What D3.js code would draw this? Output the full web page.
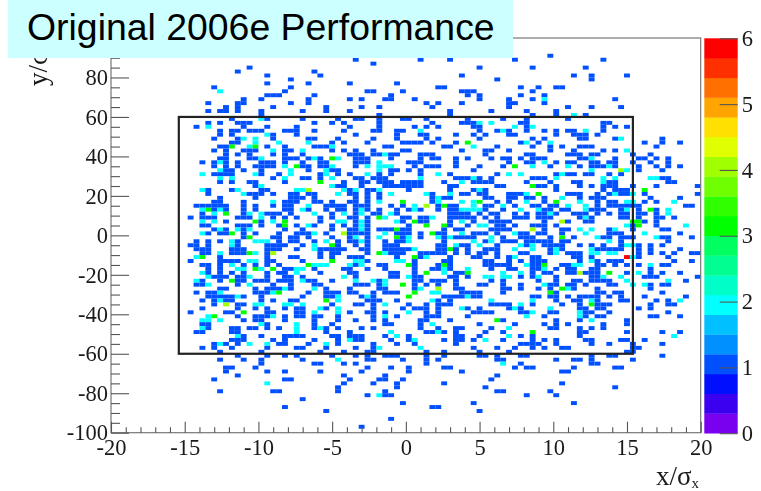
<!DOCTYPE html>
<html>
<head>
<meta charset="utf-8">
<script src="https://cdn.jsdelivr.net/npm/d3@7"></script>
<style>
  html, body { margin: 0; padding: 0; background: #fff; }
  svg { display: block; }
  .serif { font-family: "Liberation Serif", serif; fill: #1a1a1a; }
</style>
</head>
<body>
<svg id="chart" width="761" height="491"></svg>
<script>
// Axis ticks
const xMajor = [-20, -15, -10, -5, 0, 5, 10, 15, 20];
const xMinor = d3.range(-20, 21).filter(v => v % 5 !== 0);
const yMajor = [-100, -80, -60, -40, -20, 0, 20, 40, 60, 80];
const yMinor = d3.range(-100, 100, 5).filter(v => v % 20 !== 0);
const zMajor = [0, 1, 2, 3, 4, 5, 6];

// Selection box drawn over the histogram
const boxX = [-15.4, 15.4];
const boxY = [-60, 60];

// 100 x 100 bins
const xBinCount = 100;
const yBinCount = 100;

// ROOT rainbow palette, bottom to top of the colour bar
const palette = [
  "#7a00f0", "#3c00f0", "#0010ff", "#0050ff", "#0090ff",
  "#00c0ff", "#00ffff", "#00ffc8", "#00ff90", "#00ff60",
  "#00ff00", "#30ff00", "#70ff00", "#a0ff00", "#e0ff00",
  "#ffe000", "#ffa500", "#ff7000", "#ff3000", "#ff0000"
];

// One string per y bin, top row first: "column" for a count of 1, "column:count" otherwise
const cellRows = [
  "", "", "", "",
  "74",
  "41 52 57 68 83",
  "44",
  "23 62 71 80",
  "21 34",
  "26 35 59 78 81 87",
  "30 65 81",
  "26 33 40 48",
  "17 30 55 56 69 72 75 76",
  "18:2 29 43 44 49 59 60 61 71",
  "26 27 28 34 47 60 62 69 73",
  "22 25 33 40 42 46 47 51 62 67 71 73:2 85",
  "16 21 22 30 33 53 55 59 67 68 73",
  "19 21 27 36 42 45 54 67 77 81 86",
  "16 18 19 21 25 32 36 40 57 64 70 75",
  "25 45 57 71 75 78:2 80",
  "20 25:2 26 32 38 41 42 45 49 50 53 60 66 70 77",
  "16 18 21 22 23 34 37 39 45 54 59 60 61 62:2 64:2 69 70 83 84",
  "14 16:2 22 26 31 40 45 51 53 55 61 62 68:2 70 71:2 83 85 87",
  "18 20 21 23 24 25 29 30 31 34 39 44 45 48 49 52:2 62 65 66:2 67 70 73 75 77 78 80:2 83",
  "18 20 26:2 27 31 41 48 52 53 58 61 63 67 68 75 78 79 80 82",
  "17 21 22:2 24:2 27 33 34 38 44 48 53 55 62 71 73 79 80 85 86:2 93",
  "20 21 24:2 28:2 33:2 37 39 43 49 50 51 52 54 58 60:3 69 70:2 72 74:2 90 93 96",
  "18 19 20:3 23:2 24:3 26 29 34 35 36 37:2 46 47 56 57 61:2 65 71 74 76 79 80 81 92",
  "17 19 22 23 24 27:2 29 30 32:2 37 39 41 44 49 50 59 63 64 67 74 78 83 85 87:2",
  "19 21 23 27 29 32 40 41 42 44 45 46:2 47 48 52 53 54 63 70 71 77 78 79 81 82 88 91",
  "18 19 23 24 25:2 29 30 31 33 34:2 35 37:3 38:2 41 42 43 47 52 54 55 58 60 64 66 67 69 71 72 73 79 80 81:2 85 89 90 92 94",
  "15 17 18:2 19 21 25 26 27 29 32 35 36 41 42 43 45:2 50 51 52 58 67 70 71 73:2 75 77 78 81 82 84 85 88 91 94",
  "17 19 21 24 25 26 27 29:2 31:3 32 33 35 36 37:2 41 43:2 45:2 46:2 47:2 51 53 54 55 58 62 66 68:3 71:2 74 77:2 79 81 82 83 84:2 85 89 92 94 96",
  "18:2 19 20 22 25 30:2 33 36:2 37 38 45:2 47 48 50 52 61 81:2 86:4 87:2 89 93",
  "15:2 17 18 19 20 24:2 25 28 30:2 35 36:2 38 40 43:2 45 47 52 55:2 57 65 67:2 69:2 75 76:2 77 78 80 81 84 86",
  "18:2 20:2 27 29:2 32 33 35 37:2 41 42 44 45 46 52:2 58 59 60 61:2 62 64 71 72 73 75:2 83:2 85:2 91:2 92:2 93 94",
  "18 20 23 24 29 35:3 39 42 43 45 46 47 49 50 51 52 56 59:2 61 62 63 64 70 74 78 79 83:2 84 85 94 95",
  "24 25:2 37:2 38 39 42 46 47 48 49 50 51 52 57 58 65 66 71:3 72 73 75 79 81 83 84 85 88 92 99",
  "15:2 16 20 21:2 25 26 31:2 32:2 33:4 39:2 40 41:2 43 44 45:2 50 57 61 62:2 63 75 83 85 86 87 90:3",
  "16 22:2 23 24 25 27 30 31 33 34 38:2 40 41 43 45 47:2 53:2 54 57:2 59 60 62 63 67 68 69 70:2 72:3 77 78 79 82 84 85:2 86 87 88:2 90 99",
  "18 24 30 31 32 34 41 43 45 54 55:2 56 57 63 64 67 68 70 71 73 76:2 79 81 82 83 91 96",
  "17 18 22 27:2 29 30 31 34 35 37 40 41 43 45:2 49:3 54 55:2 59:2 61:2 62:3 65 67 70:2 73 75:3 79:2 82 84 85 87:2 88:2 90 92 95:2",
  "14 15 16 17 18 19 22 24 27 29 30 33:2 36 37 38 39 41 42 43 47 49 51:2 53:4 55 56:3 57 58 61:2 63 64 66:2 68 71 72 74 75 77:2 80:2 82 84 85 86 87 88 89 97 98",
  "15:2 16:3 17 18:2 19 22 24 29 30 32:2 33 36 38 39 41 42:2 43 45 48 50 51:2 52 55 57 58 59:2 60:2 61:2 62:2 63 66 69:2 72:2 73 74 76 77 80:2 81 82 83 86 87:2 89 91:3 92 94:2",
  "15 17:2 19:3 22 23:2 25:2 26 27 28 30 34:2 37 39:2 41 42:2 44 45 47:2 48 57 58 59 60 62 64 65 68 70 72 73 74:2 75 78 79 80 82 84 86 87 89 90 92 94:2",
  "13 15 16 17 21 22 23 25:2 27 29 31 35 37 40 41 43 45:3 46:2 49 50 52 53 54:2 57 58 59 60 61 63 65 68 69 70 72 73 74 79 80:2 81 86 87 89 92 93 95",
  "15:2 17:2 19 24:3 25 27:2 29:3 35 38:2 39:2 41 42:2 43 48:2 49 51:3 52 53 57 59:2 61 64 65 66 67 73 76:4 77 80 81 88:3 89:3 90 92",
  "15 16 21 22 23 25 28 29:3 31 33:2 34 37 39 41 42:2 43 50 53:3 56:3 57 60 62:2 63:2 65 66 68 71 72 73 75 87:2 88 89:3 92 97:2",
  "17 18:2 19 21:2 22 23:2 29 32 37 40 41 42:2 43 45 46 47 48:3 49 50 56 58 59 64 65 66 67 71:4 73 76 77 79:2 81:2 84 85:2 88 93 94",
  "15:2 16 18 19 20:3 22 24 28 31 32 33 34:2 36 39:4 40 41 42 43 46:2 48 49 50 52 54:3 55 56 59:2 61 62 63 65 68:2 69 70 72 73 76 80:2 84 85 86 90:2 96",
  "22 23:3 27 28 30 31 33 37 40 41:2 43 45:2 48:3 49 50:2 52 55:2 56 57:2 58 59 60 61 64:2 66 69 70 71 74 76:3 78 82:2 83 84 86 87 88 92:2 93 94 98",
  "14 16 18 20:2 21 24:2 25:2 26:2 28 30 31 34 36:2 38 40 41 42:2 43 46 48 49 50:2 56 61:2 63 64:2 66 67 68 70 71 72 73 74 76 77 84:2 86 94",
  "13 14 16 20:2 21 26 27 28 29 32 34:2 37:3 38 41 43 46 47 48 55 56 58:2 59 60 62:2 65 69:2 70 71:2 73 74 75 76 79 81 83 86 87:2 88:2 89 91 93",
  "14 15 16 20 21 22 26 27 28 31 34:2 35 36 37 38 39 42 43 46 47 48 49 50 51:2 55 56 57:3 58 60 63 64 65 68:2 71:2 74 75:2 76 81:2 82 83 84 85 86 89 91 96",
  "15 16 18:2 20 21 22 23:3 24:2 26 27:4 35 37 38 43 45:3 46:2 47 48 49 52 53 54 55 56 58 60 62 63 65 69 70 74 75:2 77 78 79 81:2 82:2 84:2 85:2 89 91 93 95 98 99",
  "14:2 15:3 18 26 30 31 35 37 40 41 42 48 51:3 52 53:2 57 61 62 65 67 68:2 71 72 78 79 81 87:6 88:2 89 94",
  "13 18 19 20 21 23:2 24:2 26 27 32 37:3 41:2 42:2 43 48:2 49:2 51 56 57 63 64 67 69 71 72 73 79 81:2 82 84 85 86 95 98",
  "15 16 18 20:2 22 24 26 28 33:3 34:2 35:2 36:2 40:2 41 42:2 45 46 50:3 51 55 56:3 57 63 64 65 66 67 70:2 71 72 73:3 76 77 78:2 79:2 82 83 85 87 89 91:2 93 94",
  "16 18 21:2 22:2 24:3 25:2 27:3 29 30 31:2 32:2 34 39 40 43 46 51 54 55 56:2 57 60:2 64 67 68 71 72 73:2 75 77 78 81 82 91",
  "15:2 16 18 20 22 26 28 29 31:2 35 40 41 47 48 51 53:3 56:2 58 59 60:3 66:2 69:2 71 73 74 77 78 79:4 80 81 82 84:3 87 89:2 91 93 96",
  "16:2 17 18 19 21 22 23:2 26 29 30 32 39:2 41 47 48 50:2 51 52 57 58 60 63:2 64:2 66:2 67:2 69 71 72:2 75 81 82 83:2 86:2 90 91 92 99",
  "14:2 15 18 20:3 21 22 24 25 26 28 29 30 32:2 33 34 37 41:2 44:2 45 46:2 51 52 54 55 56 58 64 66 72 75 78 79 81 82 83 84 87:2 94:2 97",
  "14 15 16:2 21 23:2 27 30 34 35 41 42 43 45 46:2 49:3 51 53 55 58 62 63 66 69 73:2 74 75 77 78 80 84 85 88:2 90:2 91 93 94",
  "18 19 24 26 27 28 29:2 30 34:2 36 40 45 46 51 52:2 55:4 58 59 66 67 69 72 74 76:3 77:2 78 82 91",
  "14 16 17 18:2 24 25 26 27:2 28:3 33 36 37 38 40 41 44 46 47 48 51:3 54:2 55:2 59 60 61 62 66 74:3 75 82 83 85 86 93",
  "16 17 18 19 20 21:2 22 25 32 36 37 38:2 42 43:2 44 50:3 56 57 58 59 60:2 61 62 71 72 74 75 77 79 80 81 82 84 86 90 97",
  "15 17 18:2 19 20 25 27 30 31 36:3 38:2 43 44 45 48 54:2 55 57 64:2 71:2 75 78 79 81:2 82 86 87 92 94 96:2",
  "17 19:4 21 22 24:2 25:2 29:2 30:2 32:2 37 41 42 44 46:2 50 53 55 56 57 64 65 66 67 69:2 71 76 79 81:3 82 83 84 91 94 95",
  "15 21 24 26 29 31 32 35:2 36 38:2 44 49 51 52 53 55 59:2 60 62 67 68:2 69 74:2 79 80 82 83 89 91",
  "13 19 20 22:3 26 27 31 32 34:2 38:2 40 43 44 46 50:2 53 55 61 62 63 64 69 70 71:2 74 75 79:2 80 81 84 94",
  "16:2 17:3 21 24 25 26 27:2 29 31 32 34 35 38 44 46:2 48 53 54 55 60 70:2 73 79:2 80 82 83 91 92 96",
  "15:2 16:2 18:2 22 24 25 29 34 38 41 44 46 52 53 57 65:3 66 75 79 81:2 87",
  "15 16 25:2 26 31:2 34 37 46 47 52 54:2 62 68 73 75 77 83 87",
  "15:2 16 20 21 23 24 26 28 31:2 34 35:2 36 38 42 44 52 55 58 59 64 67:2 74 75 79 81 83",
  "14 15 20 21 31:2 36 40 47:2 53 54 55:2 56 58 63 66 71:3 79 80 87 93 96",
  "21:2 22 25 29 30 31 32 37 38 40 41 42 46 48:2 50 58 59 62 67:2 69 71 79 95:2",
  "20 21 22 27 29 34 38 40:2 41 42 47 50 51:2 56 58 59 61 63:2 66 71 73 75 80 81 86 87 90",
  "17 18:2 19 21 23:2 26:2 28 29 33 36:2 38 44 48 51 58 69 70 71 72 75 81 84 88 93",
  "15 17 20 26 31 32 36 41 44 45:2 52:2 61 65 68 71 73 76 77 88 89",
  "18 25 35 39 43 44 53 56 62 67 87 88",
  "21 26 29 31 37 41 43 46 47 48 53 56 62 63 65 69 70 81 84 85 93",
  "18 22 25 32 38:2 43 44 49 53 55 65 66 75 78 79 81 88",
  "25 34 35 39 41 53 66:2 69 81 82",
  "19 20 24 43 47 50 56 57 68 70 71 78 85 86",
  "19 26 29 35 42 50 59 76 77",
  "21 39 46 65",
  "17 29 30 40 45 46 49 64",
  "26:2 39 44 48 56 76",
  "38 48 63 85",
  "18 27 28 38 46 65 66 74",
  "43 45:2 46 47 70 75",
  "32",
  "49 61 78",
  "29 54 55",
  "36 62",
  "",
  "47",
  "",
  "42",
  ""
];

// parse the rows into cells
const cells = [];
cellRows.forEach((row, r) => {
  row.split(" ").filter(s => s).forEach(s => {
    const parts = s.split(":");
    cells.push({ col: +parts[0], row: r, count: parts[1] ? +parts[1] : 1 });
  });
});

const svg = d3.select("#chart");
const plot = svg.append("g").style("filter", "blur(0.45px)");

const x = d3.scaleLinear().domain([-20, 20]).range([111, 700.7]);
const y = d3.scaleLinear().domain([-100, 100]).range([432.7, 38]);
const z = d3.scaleLinear().domain([0, 6]).range([433.2, 38.3]);
const color = d3.scaleQuantize().domain([0, 6]).range(palette);

const colToX = d3.scaleLinear().domain([0, xBinCount]).range(x.domain());
const rowToY = d3.scaleLinear().domain([0, yBinCount]).range([100, -100]);

// Histogram cells
plot.append("g").selectAll("rect")
  .data(cells)
  .enter()
  .append("rect")
  .attr("x", d => x(colToX(d.col)))
  .attr("y", d => y(rowToY(d.row)))
  .attr("width", d => x(colToX(d.col + 1)) - x(colToX(d.col)))
  .attr("height", d => y(rowToY(d.row + 1)) - y(rowToY(d.row)))
  .attr("fill", d => color(d.count));

// Frame
plot.append("rect")
  .attr("x", x(-20)).attr("y", y(100))
  .attr("width", x(20) - x(-20)).attr("height", y(-100) - y(100))
  .attr("fill", "none").attr("stroke", "#777").attr("stroke-width", 1.2);

function styleAxis(g){
  g.select(".domain").remove();
  g.selectAll("line").attr("stroke", "#555").attr("stroke-width", 1.1);
  g.selectAll("text")
    .attr("class", "serif")
    .style("font-size", "22.5px");
}

// X axis
plot.append("g")
  .attr("transform", `translate(0,${y(-100)})`)
  .call(d3.axisBottom(x).tickValues(xMinor).tickSize(-5.5).tickFormat(""))
  .call(styleAxis);
plot.append("g")
  .attr("transform", `translate(0,${y(-100)})`)
  .call(d3.axisBottom(x).tickValues(xMajor).tickSize(-11).tickPadding(6).tickFormat(d => String(d)))
  .call(styleAxis);

// Y axis
plot.append("g")
  .attr("transform", `translate(${x(-20)},0)`)
  .call(d3.axisLeft(y).tickValues(yMinor).tickSize(-9).tickFormat(""))
  .call(styleAxis);
plot.append("g")
  .attr("transform", `translate(${x(-20)},0)`)
  .call(d3.axisLeft(y).tickValues(yMajor).tickSize(-18).tickPadding(3).tickFormat(d => String(d)))
  .call(styleAxis);

// Axis titles
const xTitle = plot.append("text")
  .attr("class", "serif")
  .attr("x", 699).attr("y", 485)
  .attr("text-anchor", "end")
  .style("font-size", "27px");
xTitle.append("tspan").text("x/σ");
xTitle.append("tspan").text("x").attr("dy", 3).style("font-size", "15px");

const yTitle = plot.append("text")
  .attr("class", "serif")
  .attr("transform", "translate(47,86) rotate(-90)")
  .style("font-size", "27px");
yTitle.append("tspan").text("y/σ");
yTitle.append("tspan").text("y").attr("dy", 3).style("font-size", "15px");

// Selection box
plot.append("rect")
  .attr("x", x(boxX[0])).attr("y", y(boxY[1]))
  .attr("width", x(boxX[1]) - x(boxX[0])).attr("height", y(boxY[0]) - y(boxY[1]))
  .attr("fill", "none").attr("stroke", "#222").attr("stroke-width", 2.2);

// Colour bar
const bandEdges = d3.range(palette.length + 1).map(i => i * 6 / palette.length);
plot.append("g").selectAll("rect")
  .data(palette)
  .enter()
  .append("rect")
  .attr("x", 704.3)
  .attr("width", 33.4)
  .attr("y", (d, i) => z(bandEdges[i + 1]))
  .attr("height", (d, i) => z(bandEdges[i]) - z(bandEdges[i + 1]) + 0.3)
  .attr("fill", d => d);

plot.append("g")
  .attr("transform", "translate(737.7,0)")
  .call(d3.axisRight(z).tickValues(zMajor).tickSize(-18).tickPadding(4).tickFormat(d => String(d)))
  .call(styleAxis);

// Title banner covers the top of the frame and the y title
svg.append("rect")
  .attr("x", 8).attr("y", 0)
  .attr("width", 505).attr("height", 58)
  .attr("fill", "#ccffff");
svg.append("text")
  .attr("x", 27).attr("y", 40)
  .style("font-family", "'Liberation Sans', Arial, sans-serif")
  .style("font-size", "37.4px")
  .style("fill", "#000")
  .text("Original 2006e Performance");
</script>
</body>
</html>
